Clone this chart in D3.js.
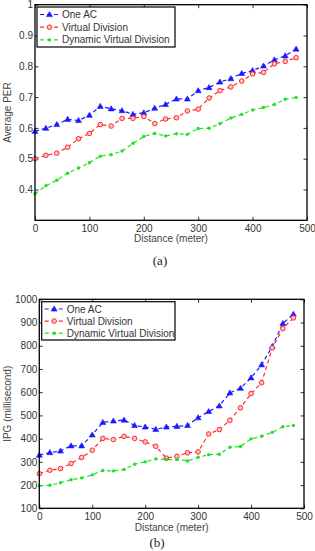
<!DOCTYPE html>
<html><head><meta charset="utf-8">
<script src="https://cdn.jsdelivr.net/npm/d3@7"></script>
<style>body{margin:0;background:#fff;}svg{display:block;font-family:"Liberation Sans",Arial,sans-serif;}</style>
</head><body>
<script>
const distance = [0,20,40,60,80,100,120,140,160,180,200,220,240,260,280,300,320,340,360,380,400,420,440,460,480];
const seriesNames = ["One AC","Virtual Division","Dynamic Virtual Division"];
// (a) Average PER
const perOneAC = [0.589,0.599,0.611,0.628,0.624,0.641,0.670,0.662,0.656,0.644,0.649,0.664,0.676,0.694,0.694,0.721,0.731,0.749,0.760,0.777,0.786,0.801,0.821,0.834,0.856];
const perVD    = [0.500,0.511,0.518,0.537,0.565,0.582,0.611,0.606,0.631,0.631,0.637,0.614,0.629,0.633,0.655,0.661,0.697,0.721,0.733,0.752,0.775,0.780,0.808,0.816,0.828];
const perDVD   = [0.386,0.412,0.430,0.453,0.470,0.487,0.508,0.513,0.525,0.550,0.572,0.582,0.574,0.581,0.579,0.598,0.599,0.614,0.632,0.644,0.658,0.666,0.676,0.693,0.699];
// (b) IPG (millisecond)
const ipgOneAC = [329,340,347,369,369,416,470,476,480,457,450,440,450,453,457,490,517,541,597,617,662,718,797,896,936];
const ipgVD    = [249,264,271,293,319,350,401,396,410,401,386,367,316,324,339,343,420,439,479,533,594,641,791,874,920];
const ipgDVD   = [197,199,210,223,231,244,263,261,267,290,300,313,310,310,304,320,331,333,363,366,399,410,427,451,457];
const xTicks = [0,100,200,300,400,500];
const perTicks = [0.4,0.5,0.6,0.7,0.8,0.9,1];
const ipgTicks = [100,200,300,400,500,600,700,800,900,1000];

const colors = ["#1a1aff","#ff2a2a","#22e022"];
const W = 315, H = 551;
const svg = d3.select("body").append("svg").attr("width", W).attr("height", H);

function marker(g, i, x, y){
  if(i===0){
    g.append("path").attr("d", d3.symbol(d3.symbolTriangle, 15)())
      .attr("transform", `translate(${x},${y+0.4})`)
      .attr("fill", colors[0]).attr("stroke", colors[0]).attr("stroke-width", 0.6);
  } else if(i===1){
    g.append("circle").attr("cx", x).attr("cy", y).attr("r", 2.3)
      .attr("fill", "#ffc0c0").attr("stroke", colors[1]).attr("stroke-width", 1);
  } else {
    g.append("circle").attr("cx", x).attr("cy", y).attr("r", 1.7)
      .attr("fill", colors[2]);
  }
}

function panel(opts){
  const {left,right,top,bottom,yDomain,yTicks,yFmt,data,yLabel,xLabelY,capY,capX,caption,legend} = opts;
  const x = d3.scaleLinear().domain([0,500]).range([left,right]);
  const y = d3.scaleLinear().domain(yDomain).range([bottom,top]);
  const g = svg.append("g");
  const tk = 3.5;
  const axB = d3.axisBottom(x).tickValues(xTicks).tickSize(-tk).tickPadding(5).tickFormat(d3.format("d"));
  const axT = d3.axisTop(x).tickValues(xTicks).tickSize(-tk).tickFormat("");
  const axL = d3.axisLeft(y).tickValues(yTicks).tickSize(-tk).tickPadding(2).tickFormat(yFmt);
  const axR = d3.axisRight(y).tickValues(yTicks).tickSize(-tk).tickFormat("");
  [[axB,`translate(0,${bottom})`],[axT,`translate(0,${top})`],[axL,`translate(${left},0)`],[axR,`translate(${right},0)`]].forEach(([ax,tr])=>{
    const a = g.append("g").attr("transform", tr).call(ax);
    a.select(".domain").remove();
    a.selectAll("line").attr("stroke","#000").attr("stroke-width",0.8);
    a.selectAll("text").attr("fill","#333").style("font-size","10px").attr("font-family","Liberation Sans, Arial, sans-serif");
  });
  const line = d3.line().x((d,i)=>x(distance[i])).y(d=>y(d));
  data.forEach((s,i)=>{
    g.append("path").attr("d", line(s)).attr("fill","none")
      .attr("stroke", colors[i]).attr("stroke-width",1.2).attr("stroke-dasharray","4,3");
  });
  data.forEach((s,i)=>{
    s.forEach((v,j)=> marker(g, i, x(distance[j]), y(v)));
  });
  g.append("rect").attr("x",left).attr("y",top).attr("width",right-left).attr("height",bottom-top)
    .attr("fill","none").attr("stroke","#000").attr("stroke-width",1.3);
  const lg = g.append("g");
  lg.append("rect").attr("x",legend.x).attr("y",legend.y).attr("width",legend.w).attr("height",legend.h)
    .attr("fill","#fff").attr("stroke","#000").attr("stroke-width",1.2);
  seriesNames.forEach((n,i)=>{
    const yy = legend.y + legend.r0 + i*legend.dr;
    lg.append("line").attr("x1",legend.x+3).attr("x2",legend.x+22).attr("y1",yy).attr("y2",yy)
      .attr("stroke",colors[i]).attr("stroke-width",1.2).attr("stroke-dasharray","4,3");
    marker(lg, i, legend.x+12.5, yy);
    lg.append("text").attr("x",legend.x+25).attr("y",yy).attr("dy","0.35em")
      .attr("fill","#333").style("font-size","10px").text(n);
  });
  g.append("text").attr("x",(left+right)/2).attr("y",xLabelY).attr("text-anchor","middle")
    .attr("fill","#444").style("font-size","10px").text("Distance (meter)");
  g.append("text").attr("transform",`translate(${opts.yLabelX},${(top+bottom)/2}) rotate(-90)`)
    .attr("text-anchor","middle").attr("fill","#444").style("font-size","10px").text(yLabel);
  g.append("text").attr("x",capX).attr("y",capY).attr("text-anchor","middle")
    .attr("font-family","Liberation Serif, Times New Roman, serif").style("font-size","13px")
    .attr("fill","#222").text(caption);
}

panel({left:35,right:307,top:4.7,bottom:220.3,yDomain:[0.3,1],yTicks:perTicks,
  yFmt:d=>d===1?"1":d3.format(".1f")(d),
  data:[perOneAC,perVD,perDVD],yLabel:"Average PER",yLabelX:11,xLabelY:242,
  capX:160,capY:265,caption:"(a)",
  legend:{x:37,y:7,w:138,h:40,r0:7.5,dr:12.7}});

panel({left:39.3,right:304,top:299.3,bottom:508.3,yDomain:[100,1000],yTicks:ipgTicks,
  yFmt:d3.format("d"),
  data:[ipgOneAC,ipgVD,ipgDVD],yLabel:"IPG (millisecond)",yLabelX:11,xLabelY:530.5,
  capX:157,capY:547,caption:"(b)",
  legend:{x:41.7,y:301.7,w:133.3,h:38.3,r0:7.3,dr:12.1}});
</script>
</body></html>
